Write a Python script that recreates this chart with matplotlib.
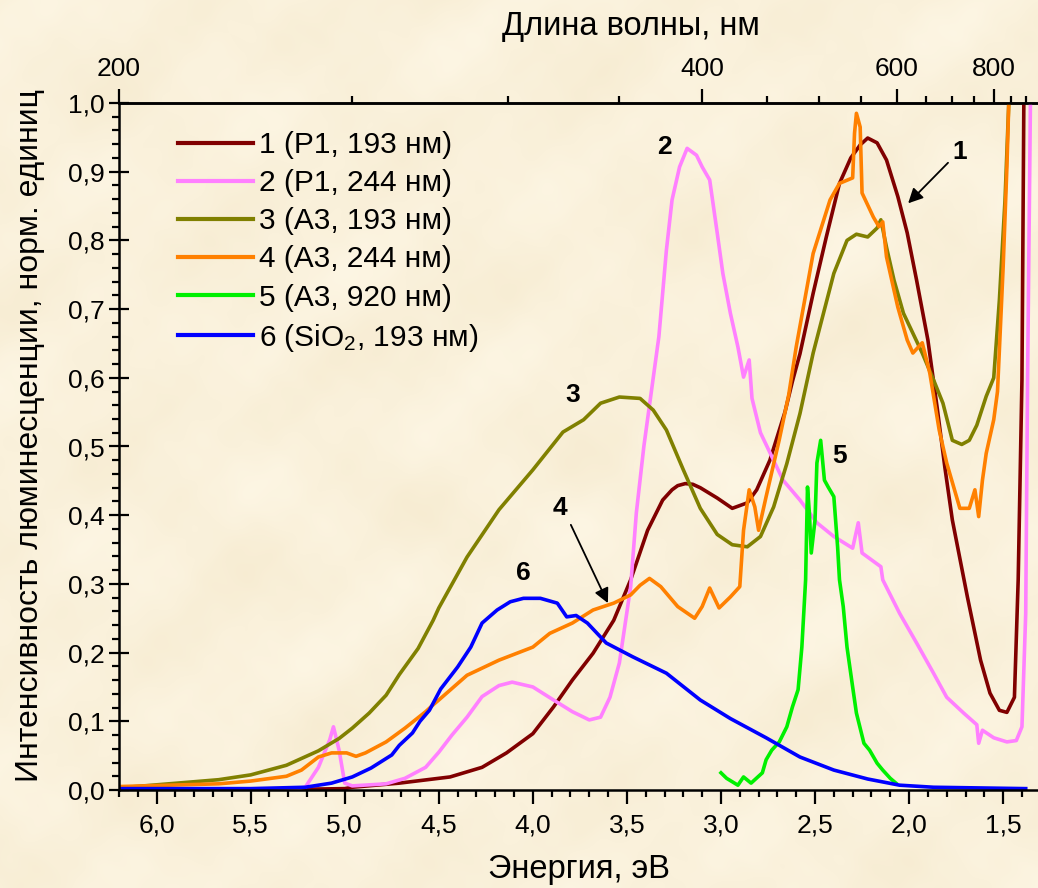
import numpy as np
import matplotlib
matplotlib.use("Agg")
import matplotlib.pyplot as plt
from matplotlib.ticker import MultipleLocator, FixedLocator, FuncFormatter

plt.rcParams['font.family'] = ['Liberation Sans', 'DejaVu Sans']
plt.rcParams['mathtext.fontset'] = 'custom'
plt.rcParams['mathtext.rm'] = 'Liberation Sans'
plt.rcParams['mathtext.it'] = 'Liberation Sans:italic'

# ---- spectra: photon energy (eV) and normalised intensity ----
e1 = [6.2, 5.5, 5.0, 4.96, 4.71, 4.50, 4.44, 4.27, 4.14, 4.00, 3.89, 3.79, 3.68, 3.57,
      3.48, 3.39, 3.31, 3.26, 3.23, 3.19, 3.15, 3.11, 3.02, 2.94, 2.86, 2.81, 2.74, 2.66, 2.62, 2.58,
      2.51, 2.44, 2.37, 2.31, 2.26, 2.22, 2.17, 2.12, 2.06, 2.01, 1.96, 1.90, 1.85, 1.81, 1.77,
      1.69, 1.62, 1.57, 1.52, 1.48, 1.44, 1.42, 1.40, 1.39]
i1 = [0.0, 0.0, 0.002, 0.004, 0.01, 0.017, 0.019, 0.033, 0.054, 0.082, 0.121, 0.16, 0.199, 0.247,
      0.306, 0.378, 0.422, 0.437, 0.443, 0.446, 0.445, 0.440, 0.425, 0.41, 0.418, 0.437, 0.48, 0.55, 0.595, 0.635,
      0.723, 0.805, 0.883, 0.92, 0.939, 0.949, 0.942, 0.917, 0.864, 0.811, 0.742, 0.655, 0.555, 0.47, 0.393,
      0.281, 0.189, 0.141, 0.116, 0.113, 0.135, 0.306, 0.597, 1.0]

e2 = [6.2, 5.3, 5.21, 5.14, 5.08, 5.06, 5.03, 5.0, 4.96, 4.78, 4.68, 4.57, 4.50, 4.43, 4.35, 4.27,
      4.18, 4.11, 4.00, 3.89, 3.79, 3.70, 3.64, 3.59, 3.54, 3.48, 3.45, 3.41, 3.37, 3.33, 3.29,
      3.26, 3.22, 3.18, 3.13, 3.10, 3.06, 3.02, 2.99, 2.95, 2.91, 2.88, 2.85, 2.835, 2.79, 2.67,
      2.58, 2.49, 2.40, 2.30, 2.27, 2.25, 2.15, 2.14, 2.05, 1.96, 1.87, 1.80, 1.71, 1.64, 1.63,
      1.61, 1.55, 1.48, 1.43, 1.40, 1.38, 1.37, 1.355]
i2 = [0.0, 0.0, 0.004, 0.033, 0.073, 0.092, 0.058, 0.01, 0.006, 0.009, 0.017, 0.033, 0.055, 0.08, 0.106, 0.136,
      0.152, 0.157, 0.15, 0.131, 0.114, 0.102, 0.106, 0.135, 0.185, 0.296, 0.403, 0.50, 0.58, 0.66, 0.786,
      0.859, 0.907, 0.934, 0.924, 0.907, 0.888, 0.811, 0.752, 0.694, 0.645, 0.601, 0.626, 0.57, 0.52, 0.451,
      0.422, 0.389, 0.369, 0.352, 0.389, 0.345, 0.325, 0.306, 0.257, 0.214, 0.170, 0.135, 0.112, 0.095, 0.068,
      0.087, 0.076, 0.07, 0.072, 0.092, 0.257, 0.6, 1.0]

e3 = [6.2, 5.67, 5.5, 5.31, 5.14, 5.03, 4.96, 4.87, 4.78, 4.71, 4.61, 4.53, 4.50, 4.35, 4.18, 4.00, 3.84,
      3.73, 3.64, 3.54, 3.43, 3.36, 3.29, 3.20, 3.11, 3.02, 2.94, 2.86, 2.79, 2.72, 2.65, 2.58,
      2.51, 2.40, 2.33, 2.28, 2.22, 2.17, 2.15, 2.12, 2.08, 2.03, 1.98, 1.93, 1.87, 1.82, 1.77,
      1.72, 1.68, 1.64, 1.59, 1.55, 1.52, 1.49, 1.47]
i3 = [0.003, 0.015, 0.022, 0.036, 0.057, 0.075, 0.09, 0.112, 0.138, 0.168, 0.206, 0.247, 0.265, 0.339, 0.408, 0.466, 0.521,
      0.539, 0.563, 0.572, 0.570, 0.553, 0.524, 0.466, 0.41, 0.372, 0.357, 0.354, 0.369, 0.412, 0.475, 0.548,
      0.636, 0.752, 0.80, 0.809, 0.805, 0.818, 0.83, 0.79, 0.742, 0.694, 0.665, 0.636, 0.597, 0.563, 0.509,
      0.503, 0.509, 0.531, 0.573, 0.60, 0.713, 0.859, 1.0]

e4 = [6.2, 5.67, 5.5, 5.31, 5.23, 5.14, 5.07, 4.99, 4.94, 4.89, 4.78, 4.71, 4.68, 4.57, 4.53,
      4.50, 4.35, 4.18, 4.00, 3.91, 3.79, 3.68, 3.57, 3.48, 3.43, 3.38, 3.32, 3.23, 3.14, 3.10,
      3.06, 3.01, 2.95, 2.90, 2.88, 2.85, 2.82, 2.80, 2.76, 2.69, 2.64, 2.60, 2.51, 2.42, 2.37,
      2.30, 2.29, 2.28, 2.26, 2.25, 2.19, 2.16, 2.14, 2.12, 2.06, 2.01, 1.98, 1.93, 1.89, 1.84,
      1.80, 1.73, 1.68, 1.65, 1.63, 1.61, 1.59, 1.55, 1.53, 1.50, 1.48, 1.47]
i4 = [0.005, 0.009, 0.013, 0.02, 0.029, 0.048, 0.054, 0.054, 0.049, 0.054, 0.070, 0.084, 0.09, 0.114, 0.124,
      0.131, 0.167, 0.189, 0.208, 0.228, 0.243, 0.262, 0.272, 0.284, 0.298, 0.308, 0.296, 0.267, 0.250, 0.267,
      0.294, 0.265, 0.281, 0.296, 0.378, 0.437, 0.412, 0.378, 0.427, 0.51, 0.575, 0.645, 0.781, 0.859, 0.883,
      0.891, 0.956, 0.985, 0.965, 0.869, 0.834, 0.82, 0.827, 0.776, 0.703, 0.655, 0.636, 0.651, 0.607, 0.524,
      0.476, 0.41, 0.41, 0.437, 0.398, 0.451, 0.49, 0.539, 0.58, 0.761, 0.907, 1.0]

e5 = [3.0, 2.97, 2.91, 2.88, 2.84, 2.78, 2.76, 2.73, 2.69, 2.65, 2.62, 2.59, 2.57, 2.55, 2.54,
      2.53, 2.52, 2.50, 2.49, 2.47, 2.45, 2.43, 2.40, 2.38, 2.37, 2.35, 2.33, 2.30, 2.28, 2.24,
      2.21, 2.17, 2.14, 2.10, 2.07]
i5 = [0.025, 0.017, 0.007, 0.019, 0.01, 0.025, 0.044, 0.058, 0.07, 0.092, 0.121, 0.146, 0.208, 0.306, 0.441,
      0.403, 0.345, 0.393, 0.476, 0.509, 0.451, 0.441, 0.427, 0.354, 0.306, 0.267, 0.208, 0.15, 0.112, 0.068,
      0.058, 0.039, 0.029, 0.017, 0.01]

e6 = [6.2, 5.5, 5.21, 5.07, 4.96, 4.86, 4.75, 4.71, 4.64, 4.60, 4.55, 4.49, 4.40, 4.33, 4.27,
      4.19, 4.12, 4.05, 3.96, 3.87, 3.82, 3.77, 3.71, 3.61, 3.47, 3.29, 3.11, 2.95, 2.76, 2.58,
      2.40, 2.22, 2.05, 1.87, 1.38]
i6 = [0.002, 0.002, 0.004, 0.01, 0.019, 0.032, 0.051, 0.065, 0.083, 0.10, 0.116, 0.147, 0.179, 0.208, 0.243,
      0.262, 0.274, 0.279, 0.279, 0.272, 0.252, 0.254, 0.243, 0.214, 0.194, 0.170, 0.131, 0.104, 0.076, 0.048,
      0.029, 0.016, 0.007, 0.004, 0.002]

series = [
    (e1, i1, '#800000', '1 (P1, 193 нм)'),
    (e2, i2, '#ff80ff', '2 (P1, 244 нм)'),
    (e3, i3, '#808000', '3 (A3, 193 нм)'),
    (e4, i4, '#ff8000', '4 (A3, 244 нм)'),
    (e5, i5, '#00f000', '5 (A3, 920 нм)'),
    (e6, i6, '#0000ff', '6 (SiO$_2$, 193 нм)'),
]

W, H, DPI = 1038, 888, 100
fig = plt.figure(figsize=(W / DPI, H / DPI), dpi=DPI)

# parchment-like backdrop
yy, xx = np.mgrid[0:H, 0:W].astype(float)
tex = (np.sin(xx / 37.0 + 2.0 * np.sin(yy / 53.0)) + np.sin(yy / 29.0 + xx / 71.0)
       + 0.6 * np.sin((xx + yy) / 19.0) + 0.5 * np.sin((xx - 2 * yy) / 43.0)
       + 0.4 * np.sin(xx / 7.0 + np.sin(yy / 11.0)) * np.sin(yy / 9.0)) / 3.5
base = np.array([250, 241, 219]) / 255.0
amp = np.array([3, 5, 9]) / 255.0
bg = np.clip(base[None, None, :] + tex[..., None] * amp[None, None, :], 0, 1)
bgax = fig.add_axes([0, 0, 1, 1], zorder=-10)
bgax.imshow(bg, aspect='auto', extent=[0, 1, 0, 1], interpolation='bilinear')
bgax.axis('off')

ax_left, ax_right, ax_top, ax_bot = 119, 1037, 103, 790
ax = fig.add_axes([ax_left / W, 1 - ax_bot / H, (ax_right - ax_left) / W, (ax_bot - ax_top) / H])
ax.set_facecolor('none')

for e, i, c, lab in series:
    ax.plot(e, i, color=c, lw=2.6, label=lab, solid_joinstyle='round')

ax.set_xlim(6.2, 1.32)
ax.set_ylim(0, 1.0)

comma = FuncFormatter(lambda v, p: f"{v:.1f}".replace('.', ','))
ax.xaxis.set_major_locator(MultipleLocator(0.5))
ax.xaxis.set_minor_locator(MultipleLocator(0.1))
ax.yaxis.set_major_locator(MultipleLocator(0.1))
ax.yaxis.set_minor_locator(MultipleLocator(0.02))
ax.xaxis.set_major_formatter(comma)
ax.yaxis.set_major_formatter(comma)

ax.tick_params(axis='x', which='major', direction='out', length=10, width=1.6, labelsize=19, pad=7)
ax.tick_params(axis='x', which='minor', direction='out', length=5, width=1.6)
ax.tick_params(axis='y', which='major', direction='inout', length=14, width=1.6, labelsize=19, pad=3)
ax.tick_params(axis='y', which='minor', direction='out', length=5, width=1.6)
for s in ['left', 'bottom', 'top']:
    ax.spines[s].set_linewidth(1.8)
ax.spines['right'].set_visible(False)


def e_to_nm(x):
    x = np.asarray(x, dtype=float)
    with np.errstate(divide='ignore', invalid='ignore'):
        return 1240.0 / x


sec = ax.secondary_xaxis('top', functions=(e_to_nm, e_to_nm))
sec.xaxis.set_major_locator(FixedLocator([200, 400, 600, 800]))
sec.xaxis.set_minor_locator(FixedLocator([250, 300, 350, 450, 500, 550, 650, 700, 750, 850, 900]))
sec.xaxis.set_major_formatter(FuncFormatter(lambda v, p: f"{v:.0f}"))
sec.tick_params(which='major', direction='out', length=10, width=1.6, labelsize=19, pad=6)
sec.tick_params(which='minor', direction='out', length=5, width=1.6)
sec.spines['top'].set_linewidth(1.8)

fig.text(579 / W, 1 - 869 / H, 'Энергия, эВ', fontsize=23.5, ha='center', va='center')
fig.text(631 / W, 1 - 27 / H, 'Длина волны, нм', fontsize=23.5, ha='center', va='center')
fig.text(30 / W, 1 - 436 / H, 'Интенсивность люминесценции, норм. единиц', fontsize=23,
         rotation=90, ha='center', va='center')

leg = ax.legend(loc='upper left', bbox_to_anchor=((178 - ax_left) / (ax_right - ax_left), (ax_bot - 131) / (ax_bot - ax_top)),
                frameon=False, fontsize=21.5, handlelength=2.5, handletextpad=0.2,
                labelspacing=0.34, borderaxespad=0, borderpad=0)
for ln in leg.get_lines():
    ln.set_linewidth(3.0)

# curve numbers with pointers
kw = dict(fontsize=19, fontweight='bold', ha='center', va='center')
ax.text(1.729, 0.929, '1', **kw)
ax.text(3.298, 0.936, '2', **kw)
ax.text(3.787, 0.575, '3', **kw)
ax.text(3.856, 0.410, '4', **kw)
ax.text(2.372, 0.486, '5', **kw)
ax.text(4.048, 0.316, '6', **kw)
arrow = dict(arrowstyle='-|>', color='black', lw=1.3, mutation_scale=22, shrinkA=0, shrinkB=0)
ax.annotate('', xy=(2.005, 0.854), xytext=(1.793, 0.913), arrowprops=arrow)
ax.annotate('', xy=(3.601, 0.272), xytext=(3.798, 0.386), arrowprops=arrow)

fig.savefig('out.png', dpi=DPI)
